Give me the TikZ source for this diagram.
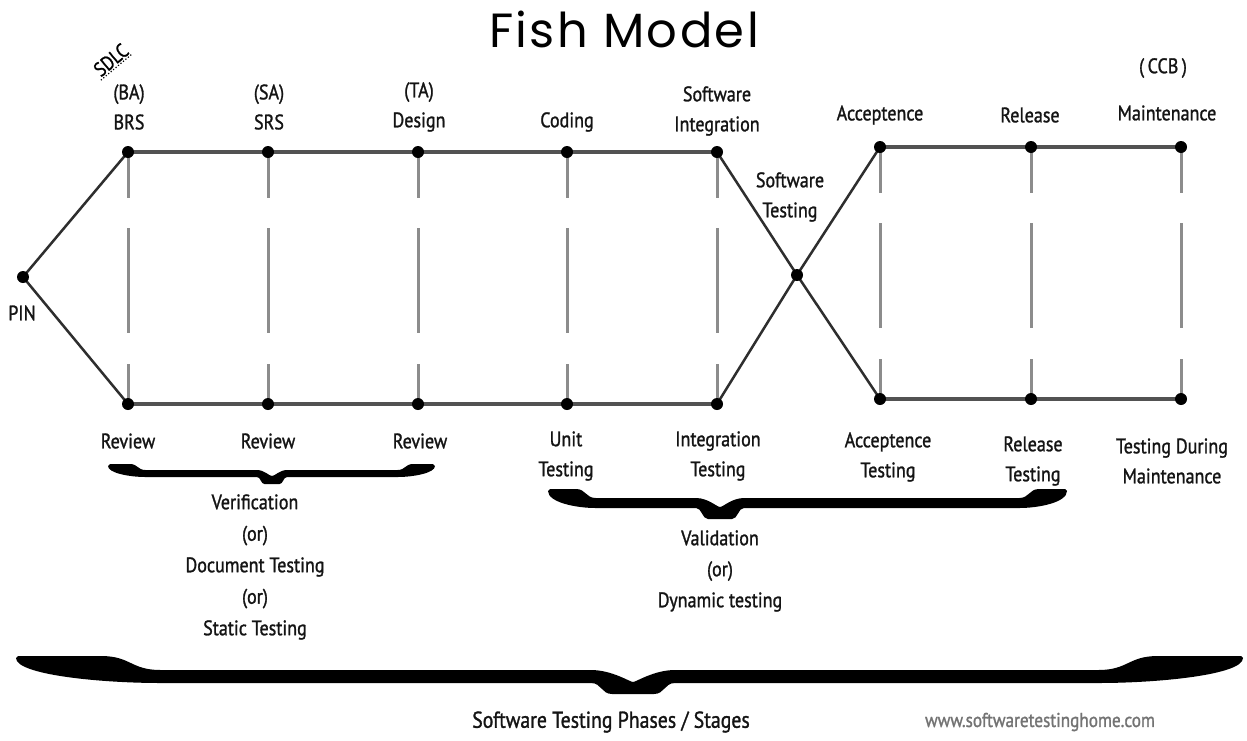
\documentclass[tikz,border=0pt]{standalone}
\usepackage{fontspec}
\setmainfont[FakeStretch=0.86,FakeBold=1.2]{PT Sans}
\newfontfamily\titlefont[LetterSpace=5]{Poppins}

% Filled curly brace: L, R, end-top y, band-top y, band-bottom y, tip x, tip-bottom y, cap length, tip half width
\newcommand\fatbrace[9]{%
  \pgfmathsetmacro\bg{0.35*#8}%
  \fill[black]
    (#1,#3+2) -- (#1+2,#3) -- (#1+#8,#3)
    .. controls (#1+#8+\bg,#3) and (#1+#8+\bg,#4) .. (#1+#8+2*\bg,#4)
    -- (#6-#9,#4)
    .. controls (#6-0.5*#9,#4) and (#6-3,#5-1) .. (#6,#5-1)
    .. controls (#6+3,#5-1) and (#6+0.5*#9,#4) .. (#6+#9,#4)
    -- (#2-#8-2*\bg,#4)
    .. controls (#2-#8-\bg,#4) and (#2-#8-\bg,#3) .. (#2-#8,#3)
    -- (#2-2,#3) -- (#2,#3+2)
    .. controls (#2,#3+0.7*#5-0.7*#3) and (#2-#8,#5) .. (#2-#8-2*\bg,#5)
    -- (#6+#9,#5)
    .. controls (#6+0.75*#9,#5) and (#6+0.75*#9,#7) .. (#6+0.5*#9,#7)
    -- (#6-0.5*#9,#7)
    .. controls (#6-0.75*#9,#7) and (#6-0.75*#9,#5) .. (#6-#9,#5)
    -- (#1+#8+2*\bg,#5)
    .. controls (#1+#8,#5) and (#1,#3+0.7*#5-0.7*#3) .. (#1,#3+2)
    -- cycle;}

\begin{document}
\begin{tikzpicture}[x=1pt,y=-1pt,
  lbl/.style={font=\fontsize{21}{30}\selectfont, align=center, inner sep=0pt, text=black!92},
  rail/.style={line width=3.5pt, draw=black!68},
  slant/.style={line width=2.5pt, draw=black!82},
  rung/.style={line width=3pt, draw=black!45,
    dash pattern=on 46pt off 30pt on 105pt off 31pt on 60pt off 10pt},
  dot/.style={circle, fill=black, inner sep=0pt, minimum size=12pt}]

\useasboundingbox[fill=white] (0,0) rectangle (1247,740);

% title
\node[anchor=base, inner sep=0pt, font=\titlefont\fontsize{48}{50}\selectfont] (title) at (624,47) {Fish Model};

% stage points
\coordinate (pin) at (23,277);
\coordinate (x)   at (797,275);
\foreach \n/\px/\ty/\by in {1/128/152/404, 2/268/152/404, 3/418/152/404, 4/567/152/404,
                            5/717/152/404, 6/880/147/399, 7/1031/147/399, 8/1181/147/399} {
  \coordinate (t\n) at (\px,\ty);
  \coordinate (b\n) at (\px,\by);
}

% dashed rungs between the two rails
\foreach \n in {1,...,8} { \draw[rung] (t\n) -- (b\n); }

% rails
\draw[rail] (t1) -- (t5);
\draw[rail] (b1) -- (b5);
\draw[rail] (t6) -- (t8);
\draw[rail] (b6) -- (b8);

% head and crossing
\draw[slant] (pin) -- (t1);
\draw[slant] (pin) -- (b1);
\draw[slant] (t5) -- (x) -- (b6);
\draw[slant] (b5) -- (x) -- (t6);

% dots
\node[dot] (dpin) at (pin) {};
\node[dot] (dx) at (x) {};
\foreach \n in {1,...,8} {
  \node[dot] (dt\n) at (t\n) {};
  \node[dot] (db\n) at (b\n) {};
}

% SDLC tag
\node[rotate=40, inner sep=1.5pt, font=\fontsize{20}{20}\selectfont] (sdlc) at (111,60) {SDLC};
\draw[dotted, line width=1.2pt] (sdlc.south west) -- (sdlc.south east);

% upper labels
\node[lbl] (lba) at (129,107) {(BA)\\BRS};
\node[lbl] (lsa) at (269,107) {(SA)\\SRS};
\node[lbl] (lta) at (419,107) {(TA)\\Design};
\node[lbl] (lcod) at (567,122) {Coding};
\node[lbl] (lsi) at (717,111) {Software\\Integration};
\node[lbl] (lst) at (790,197) {Software\\Testing};
\node[lbl] (lacc) at (880,115) {Acceptence};
\node[lbl] (lrel) at (1030,115) {Release};
\node[lbl] (lccb) at (1163,68) {(\,CCB\,)};
\node[lbl] (lmnt) at (1167,113) {Maintenance};
\node[lbl] (lpin) at (22,313) {PIN};

% lower labels
\node[lbl] (r1) at (128,441) {Review};
\node[lbl] (r2) at (268,441) {Review};
\node[lbl] (r3) at (420,441) {Review};
\node[lbl] (lut) at (566,456) {Unit\\Testing};
\node[lbl] (lit) at (718,456) {Integration\\Testing};
\node[lbl] (lat) at (888,457) {Acceptence\\Testing};
\node[lbl] (lrt) at (1033,461) {Release\\Testing};
\node[lbl] (ltm) at (1172,461) {Testing During\\Maintenance};

% braces
\fatbrace{108}{435}{464}{470}{477}{272}{484}{22}{15}
\fatbrace{548}{1067}{489}{498}{508}{720}{519}{28}{24}
\fatbrace{16}{1243}{656}{670}{683}{633}{694}{85}{42}

% group captions
\node[lbl, font=\fontsize{21}{31.5}\selectfont] (verif) at (255,567)
  {Verification\\(or)\\Document Testing\\(or)\\Static Testing};
\node[lbl, font=\fontsize{21}{31}\selectfont] (valid) at (720,571)
  {Validation\\(or)\\Dynamic testing};
\node[lbl, font=\fontsize{23}{25}\selectfont] (phases) at (611,722) {Software Testing Phases / Stages};
\node[lbl, font=\fontsize{20}{22}\selectfont, text=black!55] (www) at (1040,722) {www.softwaretestinghome.com};
\end{tikzpicture}
\end{document}
